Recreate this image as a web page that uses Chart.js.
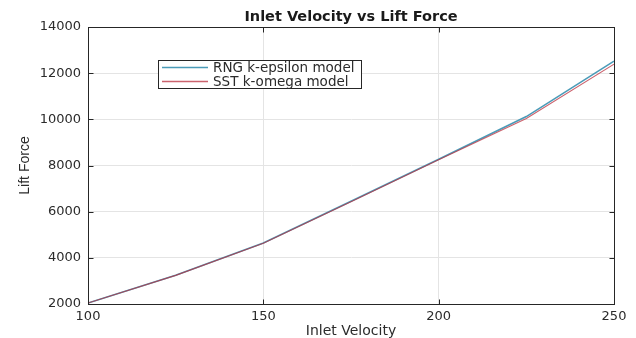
<!DOCTYPE html>
<html>
<head>
<meta charset="utf-8">
<script src="https://cdn.jsdelivr.net/npm/chart.js@4/dist/chart.umd.min.js"></script>
<style>
  html, body { margin: 0; padding: 0; background: #ffffff; }
  #chart { display: block; }
</style>
</head>
<body>
<canvas id="chart" width="636" height="338"></canvas>
<script>
  // values
  const velocity = [100, 125, 150, 175, 200, 225, 250];
  const rngLift = [2040, 3250, 4640, 6450, 8270, 10120, 12520];
  const sstLift = [2040, 3240, 4630, 6430, 8250, 10040, 12390];
  const xTicks = [100, 150, 200, 250];
  const yTicks = [2000, 4000, 6000, 8000, 10000, 12000, 14000];

  const rngColor = '#4a9bb8';
  const sstColor = 'rgba(185,45,60,0.75)';
  const textColor = '#2b2b2b';
  const wideFont = "'DejaVu Sans', Verdana, sans-serif";

  function toPoints(xs, ys) {
    return xs.map((x, i) => ({ x: x, y: ys[i] }));
  }

  // MATLAB style box, inward ticks and the legend inside the axes
  const matlabBox = {
    id: 'matlabBox',
    afterDraw(chart) {
      const ctx = chart.ctx;
      const a = chart.chartArea;
      const l = Math.round(a.left) + 0.5, t = Math.round(a.top) + 0.5;
      const r = Math.round(a.right) + 0.5, b = Math.round(a.bottom) + 0.5;
      const xs = chart.scales.x, ys = chart.scales.y;
      ctx.save();
      ctx.strokeStyle = '#262626';
      ctx.lineWidth = 1;
      ctx.strokeRect(l, t, r - l, b - t);
      ctx.beginPath();
      xTicks.forEach(v => {
        const px = Math.round(xs.getPixelForValue(v)) + 0.5;
        ctx.moveTo(px, b); ctx.lineTo(px, b - 5);
        ctx.moveTo(px, t); ctx.lineTo(px, t + 5);
      });
      yTicks.forEach(v => {
        const py = Math.round(ys.getPixelForValue(v)) + 0.5;
        ctx.moveTo(l, py); ctx.lineTo(l + 5, py);
        ctx.moveTo(r, py); ctx.lineTo(r - 5, py);
      });
      ctx.stroke();

      // legend
      const bx = 158.5, by = 60.5, bw = 203, bh = 28;
      ctx.fillStyle = '#ffffff';
      ctx.fillRect(bx, by, bw, bh);
      ctx.strokeStyle = '#262626';
      ctx.strokeRect(bx, by, bw, bh);
      ctx.font = '13.5px ' + wideFont;
      ctx.textBaseline = 'middle';
      ctx.textAlign = 'left';
      const swatches = [rngColor, sstColor];
      chart.data.datasets.forEach((ds, i) => {
        const y = 67.5 + i * 14;
        ctx.strokeStyle = swatches[i];
        ctx.lineWidth = 1.6;
        ctx.beginPath();
        ctx.moveTo(162, y); ctx.lineTo(208, y);
        ctx.stroke();
        ctx.fillStyle = textColor;
        ctx.fillText(ds.label, 213, y + 0.5);
      });
      ctx.restore();
    }
  };

  const ctx = document.getElementById('chart').getContext('2d');
  const chart = new Chart(ctx, {
    type: 'line',
    data: {
      datasets: [
        {
          label: 'RNG k-epsilon model',
          data: toPoints(velocity, rngLift),
          borderColor: rngColor,
          borderWidth: 1.6,
          pointRadius: 0,
          tension: 0,
          order: 2
        },
        {
          label: 'SST k-omega model',
          data: toPoints(velocity, sstLift),
          borderColor: sstColor,
          borderWidth: 1.1,
          pointRadius: 0,
          tension: 0,
          order: 1
        }
      ]
    },
    options: {
      responsive: false,
      animation: false,
      devicePixelRatio: 1,
      layout: { padding: { left: 0, right: 22, top: 0, bottom: 0 } },
      plugins: {
        legend: { display: false },
        tooltip: { enabled: false },
        title: {
          display: true,
          fullSize: false,
          text: 'Inlet Velocity vs Lift Force',
          color: '#1a1a1a',
          font: { family: wideFont, size: 14.5, weight: 'bold', lineHeight: 1 },
          padding: { top: 9.5, bottom: 3 }
        }
      },
      scales: {
        x: {
          type: 'linear',
          min: 100,
          max: 250,
          afterFit(scale) { scale.height = 34; },
          afterBuildTicks(scale) { scale.ticks = xTicks.map(v => ({ value: v })); },
          grid: { color: '#e4e4e4', drawTicks: false },
          border: { display: true, color: '#262626' },
          ticks: {
            color: textColor,
            padding: 5,
            maxRotation: 0,
            autoSkip: false,
            callback: v => String(v),
            font: { family: wideFont, size: 13 }
          },
          title: {
            display: true,
            text: 'Inlet Velocity',
            color: textColor,
            font: { family: wideFont, size: 14, lineHeight: 1 },
            padding: { top: 0, bottom: 0 }
          }
        },
        y: {
          type: 'linear',
          min: 2000,
          max: 14000,
          afterFit(scale) { scale.width = 88; },
          afterBuildTicks(scale) { scale.ticks = yTicks.map(v => ({ value: v })); },
          grid: { color: '#e4e4e4', drawTicks: false },
          border: { display: true, color: '#262626' },
          ticks: {
            color: textColor,
            padding: 7,
            autoSkip: false,
            callback: v => String(v),
            font: { family: wideFont, size: 13 }
          },
          title: {
            display: true,
            text: 'Lift Force',
            color: textColor,
            font: { family: "'Liberation Sans Narrow', 'Liberation Sans', Arial, sans-serif", size: 14, lineHeight: 1 },
            padding: { top: 18, bottom: 0 }
          }
        }
      }
    },
    plugins: [matlabBox]
  });
</script>
</body>
</html>
